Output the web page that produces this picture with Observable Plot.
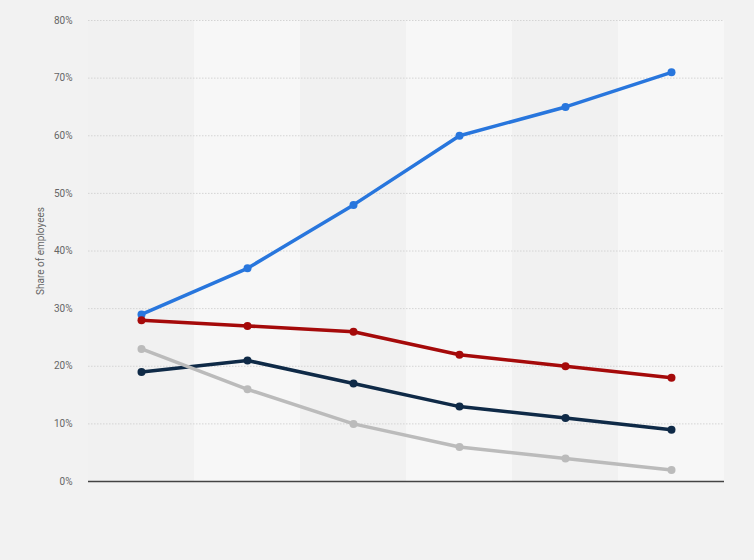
<!DOCTYPE html>
<html>
<head>
<meta charset="utf-8">
<script src="https://cdn.jsdelivr.net/npm/d3@7"></script>
<script src="https://cdn.jsdelivr.net/npm/@observablehq/plot@0.6"></script>
<style>
  html, body { margin: 0; padding: 0; background: #f2f2f2; }
  #chart { width: 754px; height: 560px; }
  svg { display: block; }
</style>
</head>
<body>
<div id="chart"></div>
<script>
// Categories (x-axis labels are not shown in the reference)
const categories = ["1", "2", "3", "4", "5", "6"];
const seriesNames = ["Series A", "Series B", "Series C", "Series D"];
const seriesA = [29, 37, 48, 60, 65, 71];   // blue
const seriesB = [28, 27, 26, 22, 20, 18];   // red
const seriesC = [19, 21, 17, 13, 11, 9];    // navy
const seriesD = [23, 16, 10, 6, 4, 2];      // gray
const yTicks = [0, 10, 20, 30, 40, 50, 60, 70, 80];
const yLabel = "Share of employees";

const seriesValues = [seriesA, seriesB, seriesC, seriesD];
const data = [];
seriesValues.forEach((vals, s) => vals.forEach((v, i) => data.push({series: seriesNames[s], i, cat: categories[i], value: v})));
const bands = categories.map((c, i) => ({i, cat: c}));

const colors = ["#2876dd", "#a50a0a", "#0f2a47", "#bbbbbb"];

const plot = Plot.plot({
  width: 754,
  height: 560,
  marginLeft: 88,
  marginRight: 30,
  marginTop: 20,
  marginBottom: 79,
  style: {background: "#f2f2f2", color: "#666", fontFamily: "Roboto, 'Open Sans', sans-serif"},
  x: {type: "linear", domain: [-0.5, categories.length - 0.5], axis: null},
  y: {domain: [0, 80], axis: null},
  color: {domain: seriesNames, range: colors},
  marks: [
    Plot.rect(bands, {x1: d => d.i - 0.5, x2: d => d.i + 0.5, y1: 0, y2: 80, fill: d => d.i % 2 === 0 ? "#f1f1f1" : "#f7f7f7"}),
    Plot.gridY(yTicks.filter(t => t > 0), {stroke: "#d4d4d4", strokeOpacity: 1, strokeDasharray: "1.5,1.5", strokeWidth: 1}),
    Plot.axisY(yTicks, {tickSize: 0, tickPadding: 16, tickFormat: d => d + "%", fontSize: 10, fill: "#666",
      label: yLabel, labelAnchor: "center", labelArrow: "none", labelOffset: 52}),
    Plot.ruleY([0], {stroke: "#444", strokeWidth: 1.5}),
    Plot.line(data, {x: "i", y: "value", z: "series", stroke: "series", strokeWidth: 3.5}),
    Plot.dot(data, {x: "i", y: "value", fill: "series", r: 4})
  ]
});
document.getElementById("chart").appendChild(plot);
</script>
</body>
</html>
